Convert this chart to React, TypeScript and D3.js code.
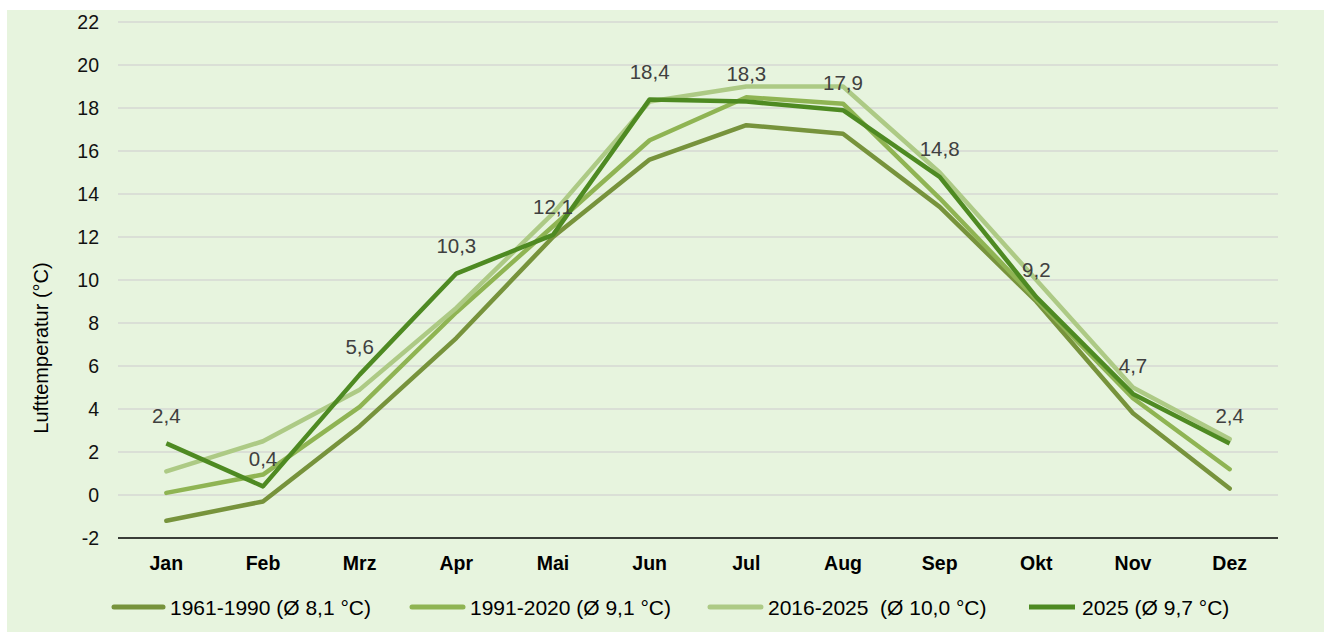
import React from "react";
import * as d3 from "d3";

const months = ["Jan", "Feb", "Mrz", "Apr", "Mai", "Jun", "Jul", "Aug", "Sep", "Okt", "Nov", "Dez"];
const s1961 = [-1.2, -0.3, 3.2, 7.3, 12.0, 15.6, 17.2, 16.8, 13.4, 9.0, 3.8, 0.3];
const s1991 = [0.1, 0.95, 4.1, 8.5, 12.5, 16.5, 18.5, 18.2, 13.8, 9.1, 4.5, 1.2];
const s2016 = [1.1, 2.5, 4.9, 8.7, 13.1, 18.3, 19.0, 19.0, 15.0, 10.0, 5.0, 2.6];
const s2025 = [2.4, 0.4, 5.6, 10.3, 12.1, 18.4, 18.3, 17.9, 14.8, 9.2, 4.7, 2.4];
const seriesNames = ["1961-1990 (Ø 8,1 °C)", "1991-2020 (Ø 9,1 °C)", "2016-2025  (Ø 10,0 °C)", "2025 (Ø 9,7 °C)"];
const yTicks = [-2, 0, 2, 4, 6, 8, 10, 12, 14, 16, 18, 20, 22];

const colors = ["#77933C", "#8FB453", "#ADCA85", "#4E8A22"];
const caps = ["round", "round", "round", "butt"];

export default function App() {
  const W = 1324, H = 632;
  const left = 118, right = 1278, top = 22, bottom = 538;
  const x = d3.scaleBand<string>().domain(months).range([left, right]);
  const y = d3.scaleLinear().domain([-2, 22]).range([bottom, top]);
  const cx = (m: string) => (x(m) as number) + x.bandwidth() / 2;
  const all = [s1961, s1991, s2016, s2025];
  const line = d3.line<number>().x((_, i) => cx(months[i])).y((v) => y(v));
  const legendX = [112, 410, 708, 1027];
  const legendLen = [53, 55, 55, 50];
  const font = "'Liberation Sans', Arial, sans-serif";
  const fmt = (v: number) => v.toFixed(1).replace(".", ",");

  return (
    <svg width={W} height={H} style={{ position: "absolute", left: 0, top: 0 }} fontFamily={font}>
      <rect x={7} y={10} width={W - 7} height={H - 10} fill="#E7F4DE" />
      {yTicks.map((t) => (
        <g key={t}>
          {t !== -2 && (
            <line x1={left} x2={right} y1={y(t)} y2={y(t)} stroke="#D6D9D3" strokeWidth={1.5} />
          )}
          <text x={99} y={y(t)} textAnchor="end" dominantBaseline="central" fontSize={19.5} fill="#111">
            {t}
          </text>
        </g>
      ))}
      <line x1={left} x2={right} y1={bottom} y2={bottom} stroke="#000" strokeWidth={1.5} />
      {months.map((m) => (
        <text key={m} x={cx(m)} y={570} textAnchor="middle" fontSize={19.5} fontWeight="bold" fill="#000">
          {m}
        </text>
      ))}
      <text
        transform={`translate(41,348) rotate(-90)`}
        textAnchor="middle"
        dominantBaseline="central"
        fontSize={20}
        fill="#000"
      >
        Lufttemperatur (°C)
      </text>
      {all.map((s, i) => (
        <path
          key={i}
          d={line(s) as string}
          fill="none"
          stroke={colors[i]}
          strokeWidth={4.5}
          strokeLinecap={caps[i] as any}
          strokeLinejoin="round"
        />
      ))}
      {s2025.map((v, i) => (
        <text
          key={i}
          x={cx(months[i])}
          y={y(v) - 28}
          textAnchor="middle"
          dominantBaseline="central"
          fontSize={20.5}
          fill="#404040"
        >
          {fmt(v)}
        </text>
      ))}
      {seriesNames.map((n, i) => (
        <g key={n}>
          <line
            x1={legendX[i] + 2}
            x2={legendX[i] + legendLen[i] - 2}
            y1={607}
            y2={607}
            stroke={colors[i]}
            strokeWidth={5}
            strokeLinecap={caps[i] as any}
          />
          <text
            x={legendX[i] + legendLen[i] + 5}
            y={607}
            dominantBaseline="central"
            fontSize={21}
            fill="#000"
            style={{ whiteSpace: "pre" }}
          >
            {n}
          </text>
        </g>
      ))}
    </svg>
  );
}
